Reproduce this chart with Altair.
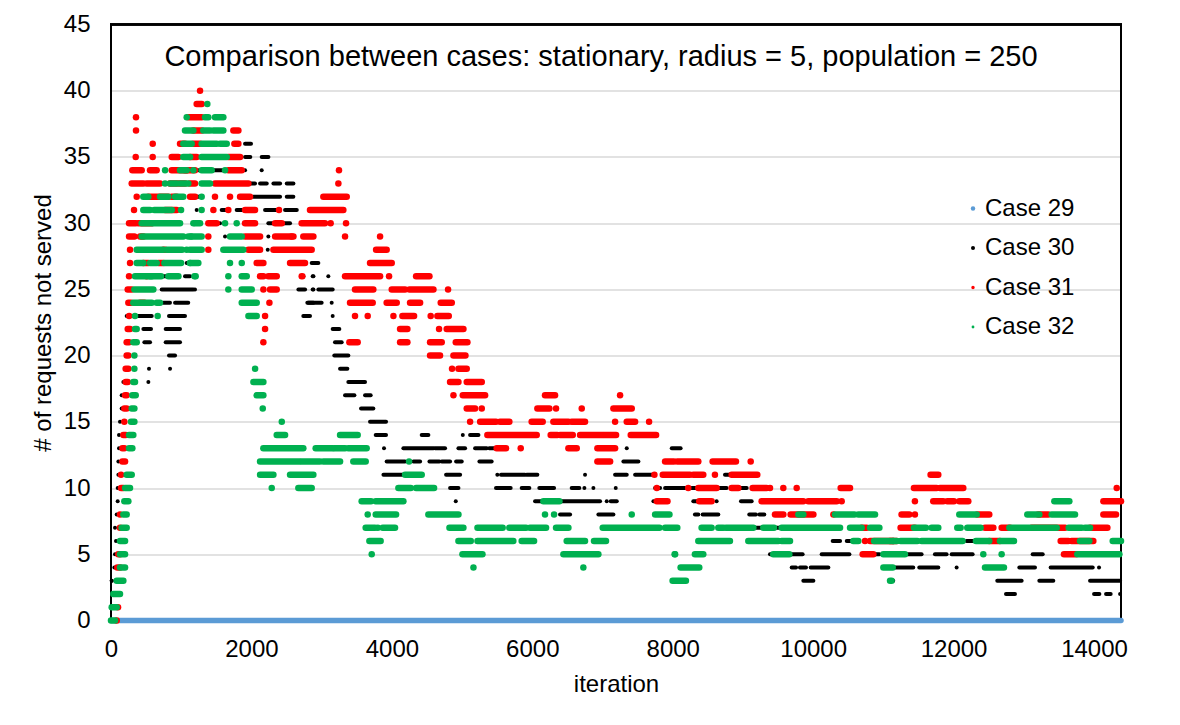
import altair as alt
import pandas as pd

series_names = ["Case 29", "Case 30", "Case 31", "Case 32"]
series_colors = ["#5b9bd5", "#000000", "#ff0000", "#00b050"]
series_widths = [5.5, 4, 6.5, 6.5]
legend_sizes = [20, 8, 20, 20]

x_ticks = [0, 2000, 4000, 6000, 8000, 10000, 12000, 14000]
y_ticks = [0, 5, 10, 15, 20, 25, 30, 35, 40, 45]
X_MAX = 14384
Y_MAX = 45

title_text = "Comparison between cases: stationary, radius = 5, population = 250"
x_title = "iteration"
y_title = "# of requests not served"

# runs: (value, first iteration, last iteration)
case29_runs = [(0, 0, 14384)]

case30_runs = [
    (3, 10, 10), (4, 48, 48), (5, 57, 57), (6, 71, 71), (7, 57, 57), (8, 81, 81), (9, 95, 95),
    (10, 95, 95), (11, 105, 105), (12, 105, 105), (13, 114, 114), (14, 114, 114), (15, 128, 128),
    (16, 152, 152), (17, 152, 152), (18, 176, 176), (23, 223, 295),
    (23, 390, 580), (23, 826, 1054), (22, 461, 570), (22, 779, 983), (21, 475, 556), (21, 779, 983),
    (20, 826, 912), (19, 541, 541), (19, 841, 841), (18, 532, 532), (24, 746, 840), (24, 912, 1100),
    (25, 722, 1173), (26, 746, 793), (26, 1054, 1126), (27, 1078, 1150), (28, 1054, 1126), (31, 570, 617),
    (36, 1909, 1994), (35, 1324, 1324), (35, 1909, 1984), (35, 2146, 2242), (34, 1244, 1244),
    (34, 1458, 1624), (34, 1909, 1909), (34, 2146, 2146), (33, 1980, 2051), (33, 2123, 2218),
    (33, 2313, 2408), (33, 2503, 2598), (32, 1220, 1268), (32, 2028, 2408), (32, 2503, 2597),
    (31, 1220, 1220), (31, 1576, 1648), (31, 1790, 1862), (31, 2194, 2360), (31, 2479, 2646),
    (30, 1553, 1553), (30, 2241, 2337), (30, 2455, 2550), (29, 1624, 1624), (29, 2241, 2241),
    (28, 2232, 2232), (27, 2883, 2883), (26, 2883, 2883), (25, 1196, 1196), (25, 2669, 2764),
    (25, 2883, 2883), (24, 2811, 2883), (23, 2754, 2811),
    (27, 2858, 2953), (26, 2739, 2739), (26, 2872, 2872), (26, 3095, 3095), (25, 2872, 2872),
    (25, 2953, 3157), (24, 2796, 3000), (24, 3143, 3143), (23, 2739, 2834), (23, 3157, 3157),
    (22, 3157, 3252), (21, 3190, 3285), (20, 3180, 3380), (19, 3262, 3366), (18, 3380, 3618),
    (17, 3333, 3466), (17, 3618, 3698), (16, 3561, 3736), (15, 3689, 3917), (14, 3770, 3917),
    (14, 4425, 4520), (14, 5010, 5010), (14, 5114, 5233), (13, 3888, 3888), (13, 4164, 4592),
    (13, 4615, 4758), (13, 4948, 5043), (13, 5185, 5350), (13, 5388, 5483), (12, 3926, 4188),
    (12, 4307, 4402), (12, 4535, 4677), (12, 4710, 4829), (12, 4915, 4995), (12, 5247, 5421),
    (11, 3880, 4188), (11, 4772, 4972), (10, 4829, 4948), (9, 4910, 4910),
    (11, 5502, 5502), (11, 5554, 5896), (11, 5920, 6072), (11, 6751, 6751), (11, 7179, 7345),
    (11, 7464, 7701), (10, 5483, 5692), (10, 5849, 5958), (10, 6100, 6310), (10, 6561, 6670),
    (10, 6742, 6742), (10, 6870, 6870), (10, 7188, 7188), (10, 7749, 7820), (10, 7891, 8174),
    (9, 6039, 6158), (9, 6395, 6965), (9, 7060, 7060), (9, 7117, 7203), (9, 7725, 7725),
    (8, 6395, 6538), (8, 6941, 7155), (13, 7345, 7345), (13, 7986, 8112), (12, 7297, 7511),
    (12, 7891, 8055),
    (11, 8245, 8293), (11, 8744, 8862), (10, 8269, 8340), (10, 8625, 8767), (10, 8886, 9053),
    (9, 8293, 8364), (9, 8625, 8625), (9, 8972, 9124), (8, 8316, 8364), (8, 8426, 8649),
    (8, 9090, 9185), (8, 9233, 9304), (8, 9575, 9575), (7, 9148, 9527), (7, 10525, 10786),
    (6, 10278, 10383), (6, 10478, 10535), (5, 9385, 9850), (5, 10121, 10516), (5, 10881, 10943),
    (4, 9694, 9756), (4, 9812, 9898), (4, 9965, 10216), (4, 11140, 11425), (3, 9860, 10003),
    (6, 12185, 12305), (6, 12414, 12414), (5, 11307, 11544), (5, 11734, 11900), (5, 11972, 12271),
    (5, 13126, 13269), (4, 11511, 11782), (4, 12043, 12043), (4, 12936, 13159), (4, 13382, 13981),
    (4, 14071, 14071), (3, 11140, 11140), (3, 12622, 12969), (3, 13221, 13420), (3, 13943, 14371),
    (2, 12746, 12874), (2, 14000, 14076), (2, 14171, 14237), (2, 14371, 14371),
]

case31_runs = [
    (0, 81, 81), (1, 100, 100), (4, 90, 128), (5, 104, 128), (7, 128, 128), (8, 128, 128),
    (10, 143, 176), (11, 143, 143), (12, 162, 200), (13, 162, 190), (14, 176, 209), (15, 190, 190),
    (16, 190, 223), (17, 200, 223), (18, 209, 238), (19, 209, 247), (20, 223, 247), (21, 223, 257),
    (22, 238, 271), (23, 258, 258), (24, 247, 285), (25, 238, 295), (26, 257, 257), (27, 271, 271),
    (28, 271, 271), (29, 257, 333), (30, 257, 352), (31, 328, 328), (32, 366, 366), (33, 295, 460),
    (34, 304, 437), (35, 352, 352), (37, 356, 356), (38, 356, 356),
    (24, 413, 475), (26, 508, 508), (27, 460, 532), (27, 675, 746), (28, 746, 770), (29, 413, 460),
    (30, 390, 580), (31, 770, 936), (32, 532, 817), (32, 865, 936), (32, 1126, 1197), (33, 508, 698),
    (33, 840, 1054), (34, 556, 650), (34, 865, 1078), (35, 594, 594), (35, 865, 960), (35, 1126, 1220),
    (36, 594, 594), (36, 983, 1054), (37, 1173, 1292), (38, 1101, 1292),
    (40, 1268, 1268), (39, 1220, 1292), (37, 1743, 1814), (36, 1173, 1268), (36, 1757, 1814),
    (35, 1671, 1838), (34, 1054, 1196), (34, 1671, 1862), (33, 1125, 1196), (33, 1481, 1956),
    (32, 1481, 1481), (32, 1695, 1695), (32, 1838, 1980), (31, 1458, 1458), (31, 1671, 1671),
    (31, 1909, 2051), (31, 2393, 2393), (31, 2834, 3309), (30, 1386, 1505), (30, 1909, 2051),
    (30, 2337, 2432), (30, 2715, 3047), (29, 1386, 1386), (29, 1909, 2123), (29, 2337, 2598),
    (29, 2739, 2882), (28, 1386, 1386), (28, 1956, 2123), (28, 2313, 2858), (27, 2075, 2170),
    (27, 2550, 2763), (26, 2123, 2170), (26, 2241, 2360), (26, 2716, 2725), (25, 2170, 2170),
    (25, 2265, 2360), (24, 2256, 2256), (23, 2194, 2194), (22, 2194, 2194), (21, 2170, 2170),
    (34, 3247, 3247), (33, 3238, 3238), (32, 3024, 3357), (30, 3128, 3128), (30, 3347, 3347),
    (29, 2573, 2573), (29, 3333, 3333), (29, 3832, 3832), (28, 3775, 3926), (27, 3689, 3998),
    (26, 3333, 3832), (26, 3960, 3960), (26, 4345, 4535), (25, 3475, 3736), (25, 3998, 4188),
    (25, 4250, 4592), (25, 4800, 4800), (24, 3404, 3727), (24, 3926, 4069), (24, 4259, 4402),
    (24, 4696, 4853), (23, 3475, 3475), (23, 3656, 3656), (23, 4022, 4022), (23, 4150, 4316),
    (23, 4553, 4553), (23, 4648, 4810), (22, 4117, 4221), (22, 4672, 4672), (22, 4781, 5019),
    (21, 3395, 3513), (21, 4117, 4221), (21, 4544, 4710), (21, 4910, 5076), (20, 4544, 4686),
    (20, 4877, 5048), (19, 4857, 4857), (19, 4948, 5066), (18, 4829, 4948), (18, 5066, 5280),
    (17, 4877, 4877), (17, 5010, 5328), (16, 5066, 5185), (16, 5280, 5280), (15, 5114, 5114),
    (15, 5257, 5483), (14, 5360, 6063),
    (17, 6181, 6324), (17, 7250, 7250), (16, 6072, 6243), (16, 6338, 6338), (16, 6704, 6704),
    (16, 7155, 7416), (15, 5540, 5673), (15, 5991, 6148), (15, 6300, 6514), (15, 6561, 6751),
    (15, 7179, 7179), (15, 7345, 7464), (15, 7663, 7663), (14, 6262, 6357), (14, 6395, 6576),
    (14, 6680, 7003), (14, 7022, 7193), (14, 7402, 7763), (13, 5493, 5625), (13, 5835, 5835),
    (13, 6514, 6633), (13, 6927, 7179), (12, 6927, 7108), (12, 7891, 8017), (11, 7739, 7739),
    (11, 7858, 8245), (10, 7773, 7773), (9, 7773, 7925),
    (12, 8065, 8364), (12, 8568, 8900), (12, 9110, 9110), (11, 8293, 8435), (11, 8601, 8601),
    (11, 8839, 9204), (10, 8221, 8221), (10, 8364, 8625), (10, 8839, 8934), (10, 9138, 9337),
    (10, 9385, 9385), (10, 9575, 9575), (10, 9765, 9765), (10, 10392, 10525), (9, 8378, 8554),
    (9, 9266, 9860), (9, 9931, 10335), (9, 10406, 10406), (8, 9456, 9575), (8, 9679, 10003),
    (8, 10288, 10288), (7, 10691, 10762), (6, 10738, 10738), (6, 10810, 11190), (5, 10705, 10857),
    (11, 11672, 11782), (10, 11435, 11758), (10, 11806, 12138), (10, 14323, 14323), (9, 11449, 11449),
    (9, 11710, 11853), (9, 11910, 12005), (9, 12081, 12209), (9, 14133, 14384), (8, 11259, 11368),
    (8, 11449, 11449), (8, 12338, 12508), (8, 13207, 13349), (8, 14133, 14313), (7, 11245, 11449),
    (7, 12447, 12566), (7, 12684, 12803), (7, 13112, 13587), (7, 13943, 14190), (6, 11093, 11140),
    (6, 12508, 12660), (6, 13525, 13634), (6, 13681, 13990), (5, 13572, 13743),
]

case32_runs = [
    (0, 0, 57), (1, 10, 81), (2, 33, 128), (3, 81, 176), (4, 128, 200), (5, 128, 200), (6, 128, 200),
    (7, 152, 223), (8, 176, 223), (9, 190, 247), (10, 200, 271), (11, 223, 295), (13, 257, 304),
    (14, 257, 318), (15, 285, 333), (16, 295, 333), (17, 304, 352), (18, 318, 342), (19, 333, 333),
    (20, 333, 333), (21, 318, 366), (22, 342, 366), (23, 342, 342), (23, 665, 665),
    (24, 318, 580), (24, 651, 698), (25, 333, 603), (26, 342, 580), (26, 556, 713), (26, 817, 960),
    (26, 1188, 1188), (27, 366, 460), (27, 556, 651), (27, 760, 998), (27, 1126, 1126),
    (28, 366, 746), (28, 793, 1012), (28, 1078, 1078), (29, 437, 1030), (29, 1140, 1140),
    (30, 437, 580), (30, 603, 983), (30, 1173, 1173), (31, 460, 556), (31, 617, 865), (31, 998, 998),
    (32, 460, 532), (32, 698, 817), (32, 912, 1030), (33, 770, 770), (33, 840, 936), (33, 983, 1101),
    (34, 770, 770), (34, 983, 1078), (34, 1173, 1173), (35, 1030, 1126), (36, 1030, 1149),
    (37, 1054, 1173), (38, 1078, 1078),
    (39, 1372, 1372), (38, 1339, 1386), (38, 1481, 1600), (37, 1315, 1410), (37, 1458, 1600),
    (36, 1291, 1505), (36, 1553, 1648), (35, 1291, 1648), (34, 1291, 1434), (34, 1624, 1624),
    (33, 1291, 1410), (32, 1291, 1291), (31, 1291, 1291), (30, 1196, 1268), (30, 1624, 1624),
    (30, 1790, 1790), (29, 1101, 1291), (29, 1695, 1862), (28, 1125, 1291), (28, 1600, 1885),
    (27, 1125, 1244), (27, 1695, 1695), (27, 1862, 1862), (26, 1206, 1206), (26, 1671, 1671),
    (26, 1862, 1933), (25, 1671, 1671), (25, 1862, 2004), (24, 1862, 2075), (23, 1957, 2075),
    (19, 2052, 2052), (18, 2028, 2170), (17, 2075, 2170), (16, 2161, 2161), (15, 2432, 2432),
    (14, 2360, 2479), (13, 2170, 2739), (12, 2123, 2682), (11, 2123, 2313), (11, 2550, 2882),
    (10, 2289, 2289), (10, 2668, 2858),
    (14, 3262, 3513), (13, 2915, 3157), (13, 3180, 3333), (13, 3380, 3641), (12, 2715, 2976),
    (12, 3024, 3262), (12, 3451, 3627), (12, 4245, 4245), (11, 4188, 4425), (10, 4093, 4269),
    (10, 4345, 4601), (9, 3570, 3703), (9, 3770, 4164), (8, 3656, 3656), (8, 3770, 4060),
    (8, 4520, 4948), (7, 3627, 3760), (7, 3800, 3800), (7, 3870, 4045), (7, 4820, 5019),
    (7, 5219, 5578), (6, 3680, 3840), (6, 4948, 5124), (6, 5219, 5730), (5, 3713, 3713),
    (5, 5005, 5290), (4, 5162, 5162),
    (9, 6158, 6386), (8, 6181, 6181), (8, 6310, 6310), (8, 7416, 7416), (8, 7749, 7953),
    (7, 5673, 5911), (7, 5967, 6196), (7, 6338, 6514), (7, 7003, 7811), (7, 7891, 8065),
    (6, 5849, 6025), (6, 6490, 6751), (6, 6879, 7050), (5, 6443, 6941), (5, 8034, 8034),
    (4, 6727, 6727), (3, 7998, 8188),
    (8, 9789, 9860), (8, 10311, 10587), (8, 10643, 10881), (7, 8411, 8554), (7, 8649, 8720),
    (7, 8758, 9148), (7, 9290, 9442), (7, 9551, 10383), (7, 10525, 10691), (7, 10810, 10943),
    (6, 8364, 8815), (6, 9076, 9504), (6, 9551, 9670), (6, 10572, 10643), (6, 10867, 11190),
    (5, 8027, 8027), (5, 8316, 8435), (5, 9432, 9660), (5, 11000, 11307), (4, 8112, 8378),
    (4, 11000, 11133), (3, 11095, 11117),
    (9, 13435, 13648), (8, 12081, 12328), (8, 13050, 13221), (8, 13397, 13729), (7, 11435, 11606),
    (7, 11687, 11782), (7, 12052, 12100), (7, 12195, 12385), (7, 12794, 13112), (7, 13145, 13468),
    (7, 13639, 13824), (7, 13872, 13943), (6, 11140, 11140), (6, 11245, 11483), (6, 11544, 12128),
    (6, 12318, 12508), (6, 12660, 12860), (6, 13800, 13933), (6, 14266, 14384), (5, 12423, 12423),
    (5, 12684, 12684), (5, 13762, 14361), (4, 12447, 12717),
]

all_runs = [case29_runs, case30_runs, case31_runs, case32_runs]

legend_rows = [{"series": name, "level": runs[0][0], "start": runs[0][1]}
               for name, runs in zip(series_names, all_runs)]
legend_df = pd.DataFrame(legend_rows)

FONT = "Liberation Sans"

x_scale = alt.Scale(domain=[0, X_MAX], nice=False, zero=False)
y_scale = alt.Scale(domain=[0, Y_MAX], nice=False)
color_scale = alt.Scale(domain=series_names, range=series_colors)

legend = alt.Legend(
    title=None, orient="none", legendX=850, legendY=172,
    labelFont=FONT, labelFontSize=24, labelColor="#000000", labelOffset=0,
    rowPadding=15.5, symbolType="circle", padding=0, symbolStrokeWidth=0,
)

x_axis = alt.Axis(values=x_ticks, title=x_title, grid=False, ticks=False, domain=False,
                  labelFont=FONT, labelFontSize=24, labelColor="#000000", labelPadding=17,
                  labelFlush=False,
                  titleFont=FONT, titleFontSize=24, titleFontWeight="normal", titleColor="#000000",
                  titlePadding=11, format="d")
y_axis = alt.Axis(values=y_ticks, title=y_title, grid=True, gridColor="#d9d9d9", gridWidth=1.3,
                  ticks=False, domain=False, labelFlush=False,
                  labelFont=FONT, labelFontSize=24, labelColor="#000000", labelPadding=21,
                  titleFont=FONT, titleFontSize=24, titleFontWeight="normal", titleColor="#000000",
                  titlePadding=8)

legend_layer = alt.Chart(legend_df).mark_circle(opacity=1).encode(
    x=alt.X("start:Q", scale=x_scale, axis=x_axis),
    y=alt.Y("level:Q", scale=y_scale, axis=y_axis),
    color=alt.Color("series:N", scale=color_scale, legend=legend),
    size=alt.Size("series:N", scale=alt.Scale(domain=series_names, range=legend_sizes), legend=legend),
)

# plot-area frame spanning the full axis domains
frame_layer = alt.Chart(legend_df).mark_rect(filled=False, stroke="#000000", strokeWidth=2).encode(
    x=alt.datum(0, scale=x_scale),
    x2=alt.datum(X_MAX),
    y=alt.datum(0, scale=y_scale),
    y2=alt.datum(Y_MAX),
)

layers = [legend_layer, frame_layer]
for name, runs, width in zip(series_names, all_runs, series_widths):
    run_df = pd.DataFrame([{"series": name, "level": v, "start": s, "end": e} for v, s, e in runs])
    layers.append(
        alt.Chart(run_df).mark_rule(strokeCap="round", strokeWidth=width).encode(
            x=alt.X("start:Q", scale=x_scale, axis=x_axis),
            x2="end:Q",
            y=alt.Y("level:Q", scale=y_scale, axis=y_axis),
            color=alt.Color("series:N", scale=color_scale, legend=legend),
        )
    )

chart = alt.layer(*layers).properties(
    width=1010,
    height=596,
    title=alt.TitleParams(title_text, font=FONT, fontSize=29, fontWeight="normal", color="#000000",
                          anchor="middle", frame="group", offset=-59, dx=-15),
    autosize=alt.AutoSizeParams(type="none"),
    padding={"left": 103, "top": 16.5, "right": 49, "bottom": 100},
).configure(background="#ffffff").configure_view(stroke="#000000", strokeWidth=2)

chart.save("out.html", embed_options={"renderer": "svg", "actions": False})
